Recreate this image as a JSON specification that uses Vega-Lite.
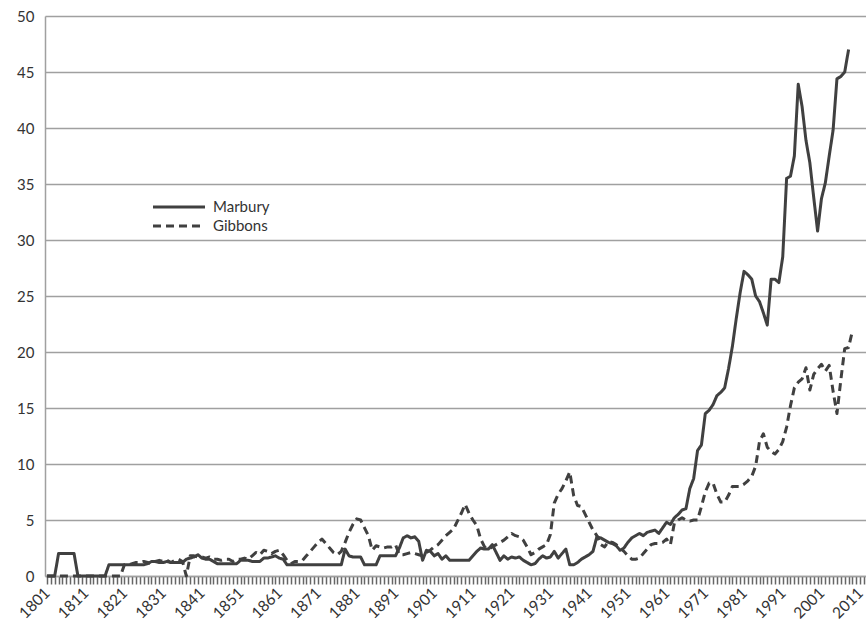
{
  "$schema": "https://vega.github.io/schema/vega-lite/v6.json",
  "width": 821,
  "height": 560,
  "autosize": {"type": "none"},
  "padding": {"left": 45, "top": 16, "right": 0, "bottom": 57},
  "background": "white",
  "config": {
    "view": {"stroke": null},
    "font": "Lato",
    "axisX": {"labelAngle": -45}
  },
  "data": {
    "values": [
      {"year":1801,"Marbury":0,"Gibbons":0},{"year":1802,"Marbury":0,"Gibbons":0},{"year":1803,"Marbury":0,"Gibbons":0},{"year":1804,"Marbury":2,"Gibbons":0},{"year":1805,"Marbury":2,"Gibbons":0},{"year":1806,"Marbury":2,"Gibbons":0},{"year":1807,"Marbury":2,"Gibbons":0},{"year":1808,"Marbury":2,"Gibbons":0},{"year":1809,"Marbury":0,"Gibbons":0},{"year":1810,"Marbury":0,"Gibbons":0},
      {"year":1811,"Marbury":0,"Gibbons":0},{"year":1812,"Marbury":0,"Gibbons":0},{"year":1813,"Marbury":0,"Gibbons":0},{"year":1814,"Marbury":0,"Gibbons":0},{"year":1815,"Marbury":0,"Gibbons":0},{"year":1816,"Marbury":0,"Gibbons":0},{"year":1817,"Marbury":1,"Gibbons":0},{"year":1818,"Marbury":1,"Gibbons":0},{"year":1819,"Marbury":1,"Gibbons":0},{"year":1820,"Marbury":1,"Gibbons":0},
      {"year":1821,"Marbury":1,"Gibbons":1.0},{"year":1822,"Marbury":1,"Gibbons":1.0},{"year":1823,"Marbury":1,"Gibbons":1.1},{"year":1824,"Marbury":1,"Gibbons":1.2},{"year":1825,"Marbury":1,"Gibbons":1.2},{"year":1826,"Marbury":1,"Gibbons":1.3},{"year":1827,"Marbury":1.1,"Gibbons":1.2},{"year":1828,"Marbury":1.3,"Gibbons":1.1},{"year":1829,"Marbury":1.3,"Gibbons":1.3},{"year":1830,"Marbury":1.2,"Gibbons":1.4},
      {"year":1831,"Marbury":1.2,"Gibbons":1.3},{"year":1832,"Marbury":1.3,"Gibbons":1.4},{"year":1833,"Marbury":1.2,"Gibbons":1.2},{"year":1834,"Marbury":1.2,"Gibbons":1.4},{"year":1835,"Marbury":1.2,"Gibbons":1.5},{"year":1836,"Marbury":1.2,"Gibbons":1.3},{"year":1837,"Marbury":1.5,"Gibbons":0},{"year":1838,"Marbury":1.6,"Gibbons":1.8},{"year":1839,"Marbury":1.7,"Gibbons":1.8},{"year":1840,"Marbury":1.9,"Gibbons":1.7},
      {"year":1841,"Marbury":1.6,"Gibbons":1.7},{"year":1842,"Marbury":1.5,"Gibbons":1.6},{"year":1843,"Marbury":1.5,"Gibbons":1.7},{"year":1844,"Marbury":1.3,"Gibbons":1.5},{"year":1845,"Marbury":1.1,"Gibbons":1.5},{"year":1846,"Marbury":1.1,"Gibbons":1.4},{"year":1847,"Marbury":1.1,"Gibbons":1.5},{"year":1848,"Marbury":1.1,"Gibbons":1.5},{"year":1849,"Marbury":1.1,"Gibbons":1.3},{"year":1850,"Marbury":1.1,"Gibbons":1.5},
      {"year":1851,"Marbury":1.4,"Gibbons":1.5},{"year":1852,"Marbury":1.4,"Gibbons":1.6},{"year":1853,"Marbury":1.4,"Gibbons":1.5},{"year":1854,"Marbury":1.3,"Gibbons":1.8},{"year":1855,"Marbury":1.3,"Gibbons":2.1},{"year":1856,"Marbury":1.3,"Gibbons":1.9},{"year":1857,"Marbury":1.6,"Gibbons":2.3},{"year":1858,"Marbury":1.6,"Gibbons":2.2},{"year":1859,"Marbury":1.7,"Gibbons":2.0},{"year":1860,"Marbury":1.8,"Gibbons":2.2},
      {"year":1861,"Marbury":1.6,"Gibbons":2.3},{"year":1862,"Marbury":1.5,"Gibbons":1.9},{"year":1863,"Marbury":1.0,"Gibbons":1.4},{"year":1864,"Marbury":1.0,"Gibbons":1.1},{"year":1865,"Marbury":1.0,"Gibbons":1.3},{"year":1866,"Marbury":1.0,"Gibbons":1.3},{"year":1867,"Marbury":1.0,"Gibbons":1.4},{"year":1868,"Marbury":1.0,"Gibbons":1.8},{"year":1869,"Marbury":1.0,"Gibbons":2.2},{"year":1870,"Marbury":1.0,"Gibbons":2.6},
      {"year":1871,"Marbury":1.0,"Gibbons":3.0},{"year":1872,"Marbury":1.0,"Gibbons":3.3},{"year":1873,"Marbury":1.0,"Gibbons":2.9},{"year":1874,"Marbury":1.0,"Gibbons":2.5},{"year":1875,"Marbury":1.0,"Gibbons":2.1},{"year":1876,"Marbury":1.0,"Gibbons":1.9},{"year":1877,"Marbury":1.0,"Gibbons":2.2},{"year":1878,"Marbury":2.4,"Gibbons":3.0},{"year":1879,"Marbury":1.8,"Gibbons":3.9},{"year":1880,"Marbury":1.7,"Gibbons":4.6},
      {"year":1881,"Marbury":1.7,"Gibbons":5.1},{"year":1882,"Marbury":1.7,"Gibbons":5.0},{"year":1883,"Marbury":1.0,"Gibbons":4.3},{"year":1884,"Marbury":1.0,"Gibbons":3.6},{"year":1885,"Marbury":1.0,"Gibbons":2.3},{"year":1886,"Marbury":1.0,"Gibbons":2.7},{"year":1887,"Marbury":1.8,"Gibbons":2.6},{"year":1888,"Marbury":1.8,"Gibbons":2.5},{"year":1889,"Marbury":1.8,"Gibbons":2.6},{"year":1890,"Marbury":1.8,"Gibbons":2.6},
      {"year":1891,"Marbury":1.8,"Gibbons":2.8},{"year":1892,"Marbury":2.5,"Gibbons":1.9},{"year":1893,"Marbury":3.4,"Gibbons":1.9},{"year":1894,"Marbury":3.6,"Gibbons":2.0},{"year":1895,"Marbury":3.4,"Gibbons":2.1},{"year":1896,"Marbury":3.5,"Gibbons":2.0},{"year":1897,"Marbury":3.1,"Gibbons":1.9},{"year":1898,"Marbury":1.4,"Gibbons":1.8},{"year":1899,"Marbury":2.3,"Gibbons":2.1},{"year":1900,"Marbury":2.2,"Gibbons":2.3},
      {"year":1901,"Marbury":1.8,"Gibbons":2.6},{"year":1902,"Marbury":2.0,"Gibbons":2.8},{"year":1903,"Marbury":1.5,"Gibbons":3.2},{"year":1904,"Marbury":1.8,"Gibbons":3.6},{"year":1905,"Marbury":1.4,"Gibbons":3.9},{"year":1906,"Marbury":1.4,"Gibbons":4.2},{"year":1907,"Marbury":1.4,"Gibbons":4.9},{"year":1908,"Marbury":1.4,"Gibbons":5.6},{"year":1909,"Marbury":1.4,"Gibbons":6.4},{"year":1910,"Marbury":1.4,"Gibbons":5.6},
      {"year":1911,"Marbury":1.8,"Gibbons":5.0},{"year":1912,"Marbury":2.2,"Gibbons":4.5},{"year":1913,"Marbury":2.5,"Gibbons":3.3},{"year":1914,"Marbury":2.4,"Gibbons":2.6},{"year":1915,"Marbury":2.4,"Gibbons":2.4},{"year":1916,"Marbury":2.8,"Gibbons":2.6},{"year":1917,"Marbury":2.1,"Gibbons":2.8},{"year":1918,"Marbury":1.4,"Gibbons":3.0},{"year":1919,"Marbury":1.8,"Gibbons":3.2},{"year":1920,"Marbury":1.5,"Gibbons":3.5},
      {"year":1921,"Marbury":1.7,"Gibbons":3.8},{"year":1922,"Marbury":1.6,"Gibbons":3.6},{"year":1923,"Marbury":1.7,"Gibbons":3.5},{"year":1924,"Marbury":1.4,"Gibbons":3.2},{"year":1925,"Marbury":1.2,"Gibbons":2.6},{"year":1926,"Marbury":1.0,"Gibbons":1.9},{"year":1927,"Marbury":1.1,"Gibbons":2.1},{"year":1928,"Marbury":1.5,"Gibbons":2.4},{"year":1929,"Marbury":1.8,"Gibbons":2.6},{"year":1930,"Marbury":1.6,"Gibbons":2.8},
      {"year":1931,"Marbury":1.7,"Gibbons":3.7},{"year":1932,"Marbury":2.2,"Gibbons":6.5},{"year":1933,"Marbury":1.6,"Gibbons":7.3},{"year":1934,"Marbury":2.0,"Gibbons":7.8},{"year":1935,"Marbury":2.4,"Gibbons":8.5},{"year":1936,"Marbury":1.0,"Gibbons":9.3},{"year":1937,"Marbury":1.0,"Gibbons":7.2},{"year":1938,"Marbury":1.2,"Gibbons":6.3},{"year":1939,"Marbury":1.5,"Gibbons":6.2},{"year":1940,"Marbury":1.7,"Gibbons":5.5},
      {"year":1941,"Marbury":1.9,"Gibbons":4.8},{"year":1942,"Marbury":2.2,"Gibbons":4.1},{"year":1943,"Marbury":3.5,"Gibbons":3.6},{"year":1944,"Marbury":3.4,"Gibbons":2.8},{"year":1945,"Marbury":3.2,"Gibbons":2.6},{"year":1946,"Marbury":3.0,"Gibbons":3.1},{"year":1947,"Marbury":2.9,"Gibbons":3.0},{"year":1948,"Marbury":2.7,"Gibbons":2.8},{"year":1949,"Marbury":2.3,"Gibbons":2.5},{"year":1950,"Marbury":2.5,"Gibbons":2.2},
      {"year":1951,"Marbury":3.0,"Gibbons":1.8},{"year":1952,"Marbury":3.4,"Gibbons":1.5},{"year":1953,"Marbury":3.6,"Gibbons":1.5},{"year":1954,"Marbury":3.8,"Gibbons":1.6},{"year":1955,"Marbury":3.6,"Gibbons":2.0},{"year":1956,"Marbury":3.9,"Gibbons":2.4},{"year":1957,"Marbury":4.0,"Gibbons":2.8},{"year":1958,"Marbury":4.1,"Gibbons":2.9},{"year":1959,"Marbury":3.8,"Gibbons":2.9},{"year":1960,"Marbury":4.3,"Gibbons":3.0},
      {"year":1961,"Marbury":4.8,"Gibbons":3.3},{"year":1962,"Marbury":4.6,"Gibbons":2.8},{"year":1963,"Marbury":5.2,"Gibbons":4.7},{"year":1964,"Marbury":5.5,"Gibbons":5.0},{"year":1965,"Marbury":5.9,"Gibbons":5.2},{"year":1966,"Marbury":6.0,"Gibbons":5.0},{"year":1967,"Marbury":7.8,"Gibbons":4.9},{"year":1968,"Marbury":8.7,"Gibbons":5.0},{"year":1969,"Marbury":11.2,"Gibbons":5.0},{"year":1970,"Marbury":11.7,"Gibbons":6.2},
      {"year":1971,"Marbury":14.5,"Gibbons":7.5},{"year":1972,"Marbury":14.8,"Gibbons":8.3},{"year":1973,"Marbury":15.3,"Gibbons":8.3},{"year":1974,"Marbury":16.1,"Gibbons":7.3},{"year":1975,"Marbury":16.4,"Gibbons":6.6},{"year":1976,"Marbury":16.8,"Gibbons":6.6},{"year":1977,"Marbury":18.5,"Gibbons":7.2},{"year":1978,"Marbury":20.5,"Gibbons":8.0},{"year":1979,"Marbury":23.0,"Gibbons":8.0},{"year":1980,"Marbury":25.3,"Gibbons":8.0},
      {"year":1981,"Marbury":27.2,"Gibbons":8.2},{"year":1982,"Marbury":26.9,"Gibbons":8.5},{"year":1983,"Marbury":26.5,"Gibbons":8.9},{"year":1984,"Marbury":25.0,"Gibbons":9.8},{"year":1985,"Marbury":24.5,"Gibbons":12.0},{"year":1986,"Marbury":23.5,"Gibbons":12.7},{"year":1987,"Marbury":22.4,"Gibbons":11.5},{"year":1988,"Marbury":26.5,"Gibbons":11.1},{"year":1989,"Marbury":26.5,"Gibbons":10.9},{"year":1990,"Marbury":26.2,"Gibbons":11.3},
      {"year":1991,"Marbury":28.5,"Gibbons":12.0},{"year":1992,"Marbury":35.5,"Gibbons":13.3},{"year":1993,"Marbury":35.7,"Gibbons":15.2},{"year":1994,"Marbury":37.5,"Gibbons":16.8},{"year":1995,"Marbury":43.9,"Gibbons":17.3},{"year":1996,"Marbury":41.9,"Gibbons":17.6},{"year":1997,"Marbury":38.9,"Gibbons":18.6},{"year":1998,"Marbury":36.9,"Gibbons":16.6},{"year":1999,"Marbury":33.8,"Gibbons":18.0},{"year":2000,"Marbury":30.8,"Gibbons":18.5},
      {"year":2001,"Marbury":33.7,"Gibbons":18.9},{"year":2002,"Marbury":35.1,"Gibbons":18.3},{"year":2003,"Marbury":37.5,"Gibbons":18.8},{"year":2004,"Marbury":39.8,"Gibbons":16.5},{"year":2005,"Marbury":44.4,"Gibbons":14.5},{"year":2006,"Marbury":44.6,"Gibbons":17.5},{"year":2007,"Marbury":45.0,"Gibbons":20.3},{"year":2008,"Marbury":47.0,"Gibbons":20.4},{"year":2009,"Marbury":null,"Gibbons":21.9}
    ]
  },
  "transform": [
    {"fold": ["Marbury", "Gibbons"], "as": ["series", "value"]}
  ],
  "mark": {"type": "line", "color": "#404040", "strokeWidth": 3, "strokeJoin": "round"},
  "encoding": {
    "x": {
      "field": "year",
      "type": "quantitative",
      "scale": {"domain": [1800.5, 2012.5], "nice": false, "zero": false},
      "axis": {
        "title": null,
        "tickCount": 212,
        "labelExpr": "(datum.value - 1801) % 10 == 0 ? datum.value : ''",
        "labelOverlap": false,
        "labelFlush": false,
        "labelAngle": -45,
        "labelAlign": "right",
        "labelBaseline": "middle",
        "labelFontSize": 15.5,
        "labelColor": "#333333",
        "labelPadding": 6,
        "grid": false,
        "domainColor": "#a0a0a0",
        "domainWidth": 1.5,
        "ticks": true,
        "tickColor": "#666666",
        "tickSize": 8,
        "tickWidth": 1.5
      }
    },
    "y": {
      "field": "value",
      "type": "quantitative",
      "scale": {"domain": [0, 50], "nice": false},
      "axis": {
        "title": null,
        "values": [0, 5, 10, 15, 20, 25, 30, 35, 40, 45, 50],
        "ticks": false,
        "labelPadding": 11,
        "labelFontSize": 15,
        "labelColor": "#333333",
        "gridColor": "#a0a0a0",
        "gridWidth": 1.5,
        "domainColor": "#a0a0a0",
        "domainWidth": 1.5
      }
    },
    "strokeDash": {
      "field": "series",
      "type": "nominal",
      "scale": {"domain": ["Marbury", "Gibbons"], "range": [[1, 0], [8, 5]]},
      "legend": {
        "title": null,
        "orient": "none",
        "legendX": 126,
        "legendY": 183,
        "symbolType": "M-4,0H4",
        "symbolSize": 169,
        "symbolStrokeWidth": 3,
        "symbolStrokeColor": "#404040",
        "labelFontSize": 15,
        "labelColor": "#333333",
        "labelOffset": 26,
        "rowPadding": 3
      }
    }
  }
}
